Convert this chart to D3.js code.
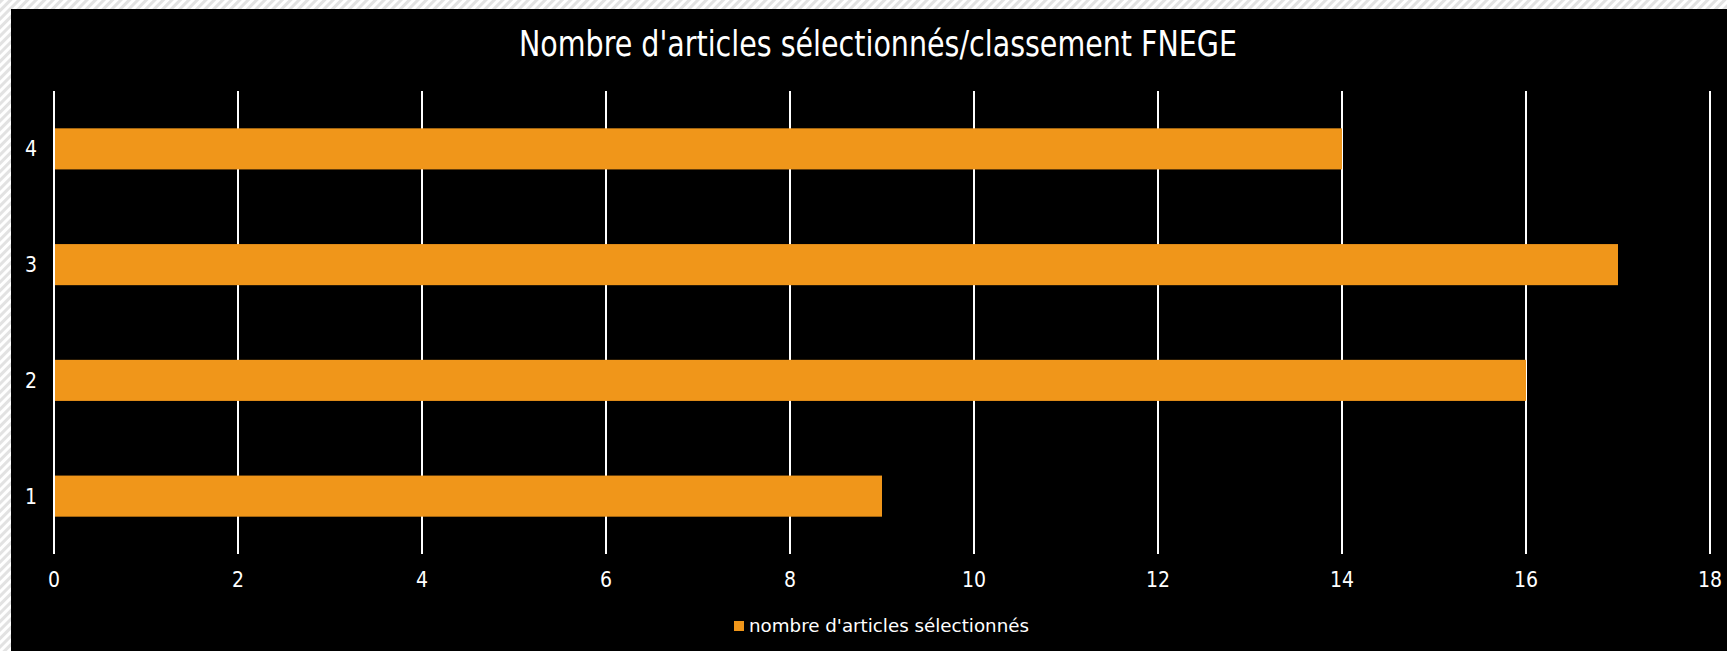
<!DOCTYPE html>
<html>
<head>
<meta charset="utf-8">
<script src="https://cdn.jsdelivr.net/npm/d3@7"></script>
<style>
  html, body { margin: 0; padding: 0; background: #fff; }
  svg { display: block; }
</style>
</head>
<body>
<div id="chart"></div>
<script>
// data
const categories = ["4", "3", "2", "1"]; // top to bottom
const values = { "1": 9, "2": 16, "3": 17, "4": 14 };
const xTicks = [0, 2, 4, 6, 8, 10, 12, 14, 16, 18];
const titleText = "Nombre d'articles sélectionnés/classement FNEGE";
const legendText = "nombre d'articles sélectionnés";

const W = 1727, H = 651;
const margin = { left: 54, right: 17, top: 91, bottom: 97 };
const w = W - margin.left - margin.right;
const h = H - margin.top - margin.bottom;
const orange = "#F0961A";
const font = "'DejaVu Sans Condensed', 'DejaVu Sans', sans-serif";

var svg = d3.select("#chart").append("svg")
  .attr("width", W)
  .attr("height", H);

// hatched frame behind the black chart area
var defs = svg.append("defs");
var pat = defs.append("pattern")
  .attr("id", "hatch")
  .attr("patternUnits", "userSpaceOnUse")
  .attr("width", 6).attr("height", 6)
  .attr("patternTransform", "rotate(45)");
pat.append("rect").attr("width", 6).attr("height", 6).attr("fill", "#ffffff");
pat.append("rect").attr("width", 3).attr("height", 6).attr("fill", "#e2e2e2");

svg.append("rect").attr("width", W).attr("height", H).attr("fill", "url(#hatch)");
svg.append("rect").attr("x", 11).attr("y", 9)
  .attr("width", W - 11).attr("height", H - 9).attr("fill", "#000");

// scales
var x = d3.scaleLinear().domain([0, 18]).range([0, w]);
var y = d3.scaleBand().domain(categories).range([0, h])
  .paddingInner(0.645).paddingOuter(0.3225);

var g = svg.append("g")
  .attr("transform", "translate(" + margin.left + "," + margin.top + ")");

// vertical gridlines
g.selectAll("line.grid")
  .data(xTicks)
  .enter()
  .append("line")
  .attr("class", "grid")
  .attr("x1", d => x(d)).attr("x2", d => x(d))
  .attr("y1", 0).attr("y2", h)
  .attr("stroke", "#fff")
  .attr("stroke-width", 2);

// bars
g.selectAll("rect.bar")
  .data(categories)
  .enter()
  .append("rect")
  .attr("class", "bar")
  .attr("x", x(0) + 1)
  .attr("y", d => y(d))
  .attr("width", d => x(values[d]) - x(0) - 1)
  .attr("height", y.bandwidth())
  .attr("fill", orange);

// x tick labels
g.selectAll("text.xlab")
  .data(xTicks)
  .enter()
  .append("text")
  .attr("class", "xlab")
  .attr("x", d => x(d))
  .attr("y", h + 33)
  .attr("text-anchor", "middle")
  .attr("fill", "#fff")
  .style("font-family", font)
  .style("font-size", "21px")
  .text(d => d);

// category labels
g.selectAll("text.ylab")
  .data(categories)
  .enter()
  .append("text")
  .attr("class", "ylab")
  .attr("x", -23)
  .attr("y", d => y(d) + y.bandwidth() / 2)
  .attr("dy", "0.36em")
  .attr("text-anchor", "middle")
  .attr("fill", "#fff")
  .style("font-family", font)
  .style("font-size", "21px")
  .text(d => d);

// title
svg.append("text")
  .attr("x", 878)
  .attr("y", 56)
  .attr("text-anchor", "middle")
  .attr("fill", "#fff")
  .attr("textLength", 718)
  .attr("lengthAdjust", "spacingAndGlyphs")
  .style("font-family", font)
  .style("font-size", "36px")
  .text(titleText);

// legend
svg.append("rect")
  .attr("x", 734).attr("y", 621)
  .attr("width", 10).attr("height", 10)
  .attr("fill", orange);
svg.append("text")
  .attr("x", 749)
  .attr("y", 632)
  .attr("fill", "#fff")
  .attr("textLength", 280)
  .attr("lengthAdjust", "spacingAndGlyphs")
  .style("font-family", font)
  .style("font-size", "18px")
  .text(legendText);
</script>
</body>
</html>
